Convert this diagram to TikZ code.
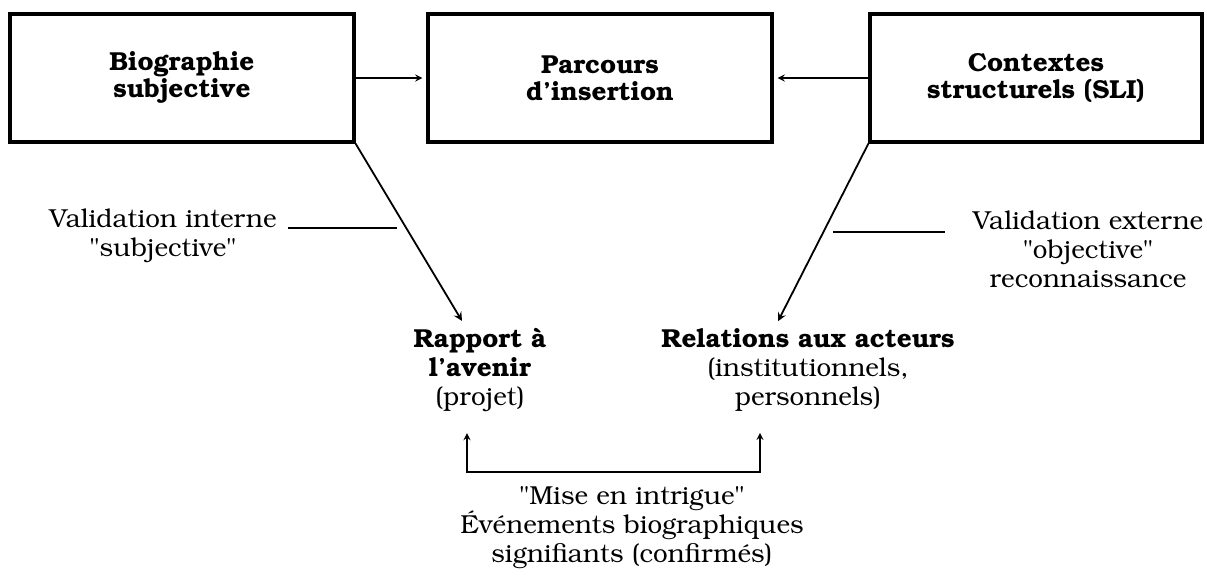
\documentclass[tikz,border=0pt]{standalone}
\usepackage[T1]{fontenc}
\usepackage{bookman}
\usepackage{tikz}

\begin{document}
\begin{tikzpicture}[x=0.5pt,y=-0.5pt,line width=0.9pt,>=stealth,
  font=\fontsize{13}{14.5}\selectfont,
  boite/.style={draw,line width=1.6pt,minimum width=172pt,minimum height=64pt,align=center,font=\fontsize{13}{13.5}\selectfont\bfseries},
  texte/.style={align=center}]

\useasboundingbox (0,0) rectangle (1207,579);

% les trois blocs du haut
\node [boite] (bio) at (182,78) {Biographie\\subjective};
\node [boite] (parcours) at (600,78) {Parcours\\d'insertion};
\node [boite,minimum width=166pt] (ctx) at (1036,78) {Contextes\\structurels (SLI)};

\draw[->,line width=0.6pt,shorten >=2pt] (bio) -- (parcours);
\draw[->,line width=0.6pt,shorten >=2pt] (ctx) -- (parcours);

% les deux rapports
\node [texte] (rapport) at (480,370) {\textbf{Rapport \`a}\\\textbf{l'avenir}\\(projet)};
\node [texte] (relations) at (808,370) {\textbf{Relations aux acteurs}\\(institutionnels,\\personnels)};

\draw[->] (bio.south east) -- ([xshift=-9pt]rapport.north);
\draw[->] (ctx.south west) -- ([xshift=-15pt]relations.north);

% validations
\node [texte] (interne) at (163,236) {Validation interne\\"subjective"};
\node [texte] (externe) at (1088,249) {Validation externe\\"objective"\\reconnaissance};

\coordinate (i1) at (288,228);
\coordinate (i2) at (397,228);
\draw (i1) -- (i2);
\coordinate (e1) at (833,232);
\coordinate (e2) at (945,232);
\draw (e1) -- (e2);

% mise en intrigue
\coordinate (b1) at (467,472);
\coordinate (b2) at (760,472);
\draw[<->,line width=0.6pt] ([yshift=-7pt]rapport.south -| b1) -- (b1) -- (b2) -- ([yshift=-7pt]relations.south -| b2);

\node [texte] (intrigue) at (632,528) {"Mise en intrigue"\\\'Ev\'enements biographiques\\signifiants (confirm\'es)};

\end{tikzpicture}
\end{document}
